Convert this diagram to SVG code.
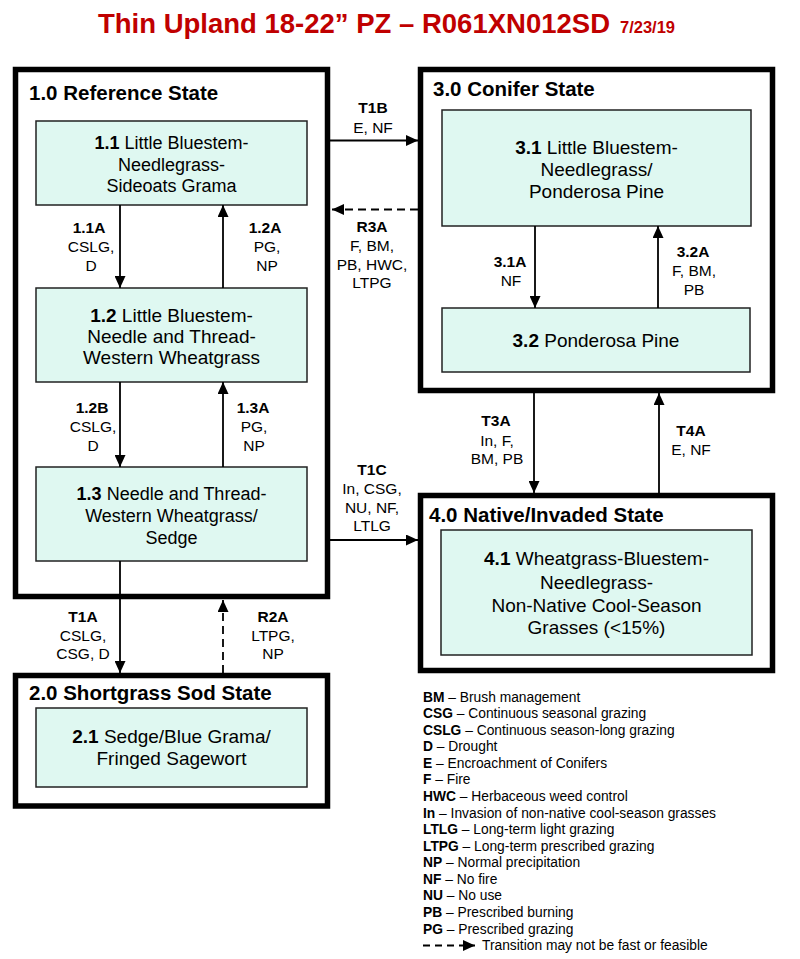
<svg xmlns="http://www.w3.org/2000/svg" width="800" height="959" viewBox="0 0 800 959">
<defs>
<marker id="ah" markerUnits="userSpaceOnUse" markerWidth="12" markerHeight="11" refX="12" refY="5.5" orient="auto">
<path d="M0,0 L12,5.5 L0,11 z" fill="#000"/>
</marker>
<style>
text{font-family:"Liberation Sans",Arial,sans-serif;fill:#000}
.title{font-size:28px;font-weight:bold;fill:#C00000}
.date{font-size:16.5px;font-weight:bold;fill:#C00000}
.state{fill:#fff;stroke:#000;stroke-width:5.5}
.st{font-size:20.5px;font-weight:bold}
.box{fill:#DFF8F1;stroke:#222;stroke-width:1.5}
.bt{font-size:19px;text-anchor:middle}
.bt18{font-size:18px;text-anchor:middle}
.lb{font-size:15.5px;text-anchor:middle}
.b{font-weight:bold}
.c{stroke:#000;stroke-width:1.8;fill:none;marker-end:url(#ah)}
.d{stroke-dasharray:8,5}
.lg{font-size:13.8px}
</style>
</defs>
<rect width="800" height="959" fill="#fff"/>
<text x="98" y="33" class="title" textLength="512" lengthAdjust="spacingAndGlyphs">Thin Upland 18-22” PZ – R061XN012SD</text>
<text x="620" y="33" class="date">7/23/19</text>

<g id="state1">
<rect class="state" x="15.5" y="69.5" width="312" height="527"/>
<text x="29" y="100" class="st">1.0 Reference State</text>
</g>
<g id="n11">
<rect class="box" x="36" y="121" width="271" height="84"/>
<text class="bt18" x="171.5" y="149"><tspan class="b">1.1</tspan> Little Bluestem-</text>
<text class="bt18" x="171.5" y="170.6">Needlegrass-</text>
<text class="bt18" x="171.5" y="192.2">Sideoats Grama</text>
</g>
<g id="n12">
<rect class="box" x="36" y="288" width="271" height="94"/>
<text class="bt" x="171.5" y="321.5"><tspan class="b">1.2</tspan> Little Bluestem-</text>
<text class="bt" x="171.5" y="342.5">Needle and Thread-</text>
<text class="bt" x="171.5" y="363.5">Western Wheatgrass</text>
</g>
<g id="n13">
<rect class="box" x="36" y="467" width="271" height="94"/>
<text class="bt18" x="171.5" y="499.5"><tspan class="b">1.3</tspan> Needle and Thread-</text>
<text class="bt18" x="171.5" y="521.5">Western Wheatgrass/</text>
<text class="bt18" x="171.5" y="543.5">Sedge</text>
</g>

<g id="state2">
<rect class="state" x="15.5" y="675.5" width="312" height="130.5"/>
<text x="29" y="700" class="st">2.0 Shortgrass Sod State</text>
</g>
<g id="n21">
<rect class="box" x="36" y="708" width="271" height="79"/>
<text class="bt" x="171.5" y="743"><tspan class="b">2.1</tspan> Sedge/Blue Grama/</text>
<text class="bt" x="171.5" y="765">Fringed Sagewort</text>
</g>

<g id="state3">
<rect class="state" x="420.5" y="69.5" width="352" height="321"/>
<text x="433" y="96" class="st">3.0 Conifer State</text>
</g>
<g id="n31">
<rect class="box" x="442" y="110" width="309" height="116"/>
<text class="bt" x="596.5" y="153.5"><tspan class="b">3.1</tspan> Little Bluestem-</text>
<text class="bt" x="596.5" y="175.5">Needlegrass/</text>
<text class="bt" x="596.5" y="198">Ponderosa Pine</text>
</g>
<g id="n32">
<rect class="box" x="442" y="308" width="308" height="64"/>
<text class="bt" x="596" y="347"><tspan class="b">3.2</tspan> Ponderosa Pine</text>
</g>

<g id="state4">
<rect class="state" x="420.5" y="495.5" width="352" height="175"/>
<text x="429" y="521.5" class="st">4.0 Native/Invaded State</text>
</g>
<g id="n41">
<rect class="box" x="441" y="530" width="311" height="125"/>
<text class="bt" x="596.5" y="565"><tspan class="b">4.1</tspan> Wheatgrass-Bluestem-</text>
<text class="bt" x="596.5" y="588.5">Needlegrass-</text>
<text class="bt" x="596.5" y="611.8">Non-Native Cool-Season</text>
<text class="bt" x="596.5" y="634">Grasses (&lt;15%)</text>
</g>

<g id="connectors">
<line class="c" x1="120" y1="205" x2="120" y2="288"/>
<line class="c" x1="223" y1="288" x2="223" y2="205"/>
<line class="c" x1="120" y1="382" x2="120" y2="467"/>
<line class="c" x1="223" y1="467" x2="223" y2="382"/>
<line class="c" x1="330" y1="140.5" x2="418" y2="140.5"/>
<line class="c d" x1="418" y1="209.5" x2="332" y2="209.5"/>
<line class="c" x1="535" y1="226" x2="535" y2="308"/>
<line class="c" x1="658" y1="308" x2="658" y2="226"/>
<line class="c" x1="534" y1="393" x2="534" y2="493"/>
<line class="c" x1="659" y1="493" x2="659" y2="393"/>
<line class="c" x1="330" y1="540" x2="418" y2="540"/>
<line class="c" x1="120" y1="561" x2="120" y2="673"/>
<line class="c d" x1="223" y1="673" x2="223" y2="600"/>

<text class="lb" x="89"><tspan class="b" x="89" y="232.5">1.1A</tspan><tspan x="91" y="251.5">CSLG,</tspan><tspan x="91" y="270.5">D</tspan></text>
<text class="lb"><tspan class="b" x="265" y="232.5">1.2A</tspan><tspan x="267" y="251.5">PG,</tspan><tspan x="267" y="270.5">NP</tspan></text>
<text class="lb"><tspan class="b" x="92" y="413">1.2B</tspan><tspan x="93" y="432">CSLG,</tspan><tspan x="93" y="450.5">D</tspan></text>
<text class="lb"><tspan class="b" x="253" y="413">1.3A</tspan><tspan x="254" y="432">PG,</tspan><tspan x="254" y="450.5">NP</tspan></text>
<text class="lb"><tspan class="b" x="373" y="113">T1B</tspan><tspan x="373" y="132.5">E, NF</tspan></text>
<text class="lb"><tspan class="b" x="372" y="232">R3A</tspan><tspan x="372" y="250.5">F, BM,</tspan><tspan x="372" y="269.5">PB, HWC,</tspan><tspan x="372" y="288">LTPG</tspan></text>
<text class="lb"><tspan class="b" x="510" y="267">3.1A</tspan><tspan x="511" y="285.5">NF</tspan></text>
<text class="lb"><tspan class="b" x="693" y="257">3.2A</tspan><tspan x="694" y="275.5">F, BM,</tspan><tspan x="694" y="294.5">PB</tspan></text>
<text class="lb"><tspan class="b" x="496" y="426">T3A</tspan><tspan x="497" y="445.5">In, F,</tspan><tspan x="497" y="464">BM, PB</tspan></text>
<text class="lb"><tspan class="b" x="691" y="435.5">T4A</tspan><tspan x="691" y="454.5">E, NF</tspan></text>
<text class="lb"><tspan class="b" x="372" y="475">T1C</tspan><tspan x="372" y="494">In, CSG,</tspan><tspan x="372" y="513">NU, NF,</tspan><tspan x="372" y="530.5">LTLG</tspan></text>
<text class="lb"><tspan class="b" x="83" y="622">T1A</tspan><tspan x="83" y="640.5">CSLG,</tspan><tspan x="83" y="659">CSG, D</tspan></text>
<text class="lb"><tspan class="b" x="273" y="622">R2A</tspan><tspan x="273" y="640.5">LTPG,</tspan><tspan x="273" y="659">NP</tspan></text>
</g>

<g id="legend">
<text class="lg" x="423" y="701.5"><tspan class="b">BM</tspan> – Brush management</text>
<text class="lg" x="423" y="718.1"><tspan class="b">CSG</tspan> – Continuous seasonal grazing</text>
<text class="lg" x="423" y="734.6"><tspan class="b">CSLG</tspan> – Continuous season-long grazing</text>
<text class="lg" x="423" y="751.2"><tspan class="b">D</tspan> – Drought</text>
<text class="lg" x="423" y="767.8"><tspan class="b">E</tspan> – Encroachment of Conifers</text>
<text class="lg" x="423" y="784.4"><tspan class="b">F</tspan> – Fire</text>
<text class="lg" x="423" y="800.9"><tspan class="b">HWC</tspan> – Herbaceous weed control</text>
<text class="lg" x="423" y="817.5"><tspan class="b">In</tspan> – Invasion of non-native cool-season grasses</text>
<text class="lg" x="423" y="834.1"><tspan class="b">LTLG</tspan> – Long-term light grazing</text>
<text class="lg" x="423" y="850.6"><tspan class="b">LTPG</tspan> – Long-term prescribed grazing</text>
<text class="lg" x="423" y="867.2"><tspan class="b">NP</tspan> – Normal precipitation</text>
<text class="lg" x="423" y="883.8"><tspan class="b">NF</tspan> – No fire</text>
<text class="lg" x="423" y="900.3"><tspan class="b">NU</tspan> – No use</text>
<text class="lg" x="423" y="916.9"><tspan class="b">PB</tspan> – Prescribed burning</text>
<text class="lg" x="423" y="933.5"><tspan class="b">PG</tspan> – Prescribed grazing</text>
<line x1="423" y1="945.5" x2="475" y2="945.5" stroke="#000" stroke-width="2.2" stroke-dasharray="7,5" marker-end="url(#ah)"/>
<text class="lg" x="482" y="950">Transition may not be fast or feasible</text>
</g>
</svg>
